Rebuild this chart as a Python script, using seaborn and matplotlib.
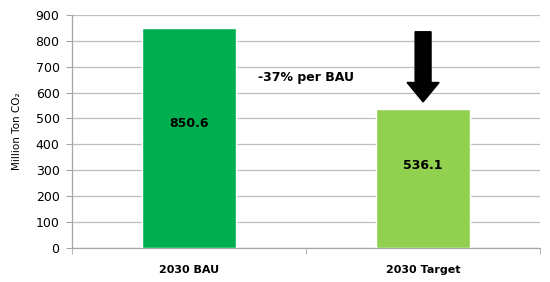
import matplotlib
matplotlib.use('Agg')
import matplotlib.pyplot as plt
import seaborn as sns
import pandas as pd

# chart data
categories = ['2030 BAU', '2030 Target']
emissions = [850.6, 536.1]
bar_colors = ['#00B050', '#92D050']
y_ticks = [0, 100, 200, 300, 400, 500, 600, 700, 800, 900]

df = pd.DataFrame({'scenario': categories, 'emissions': emissions})

sns.set_style('white')
plt.rcParams['font.family'] = ['DejaVu Sans']
plt.rcParams['text.color'] = 'black'
plt.rcParams['xtick.labelcolor'] = 'black'
plt.rcParams['ytick.labelcolor'] = 'black'
plt.rcParams['axes.labelcolor'] = 'black'

fig = plt.figure(figsize=(5.5, 2.82), dpi=100)
ax = fig.add_axes([0.131, 0.121, 0.851, 0.826])

sns.barplot(data=df, x='scenario', y='emissions', hue='scenario',
            palette=bar_colors, saturation=1, width=0.4, legend=False,
            ax=ax, zorder=3)

ax.set_ylim(0, 900)
ax.set_yticks(y_ticks)
ax.set_xlim(-0.5, 1.5)
ax.grid(axis='y', color='#BFBFBF', linewidth=0.9, zorder=0)
ax.set_axisbelow(True)

for s in ['top', 'right']:
    ax.spines[s].set_visible(False)
for s in ['left', 'bottom']:
    ax.spines[s].set_color('#A6A6A6')
    ax.spines[s].set_linewidth(0.9)

# ticks: y outward on the left, x at category boundaries
ax.tick_params(axis='y', left=True, length=4, color='#A6A6A6', labelsize=9, pad=5)
ax.set_xticks([0, 1])
ax.set_xticklabels(categories, fontsize=8, fontweight='bold')
ax.tick_params(axis='x', bottom=False, pad=9)
ax.set_xticks([-0.5, 0.5, 1.5], minor=True)
ax.tick_params(axis='x', which='minor', bottom=True, length=4, color='#A6A6A6')

ax.set_xlabel('')
ax.set_ylabel('Million Ton CO\u2082', fontsize=7.5, labelpad=10)

# value labels inside bars
ax.text(0, 480, f'{emissions[0]}', ha='center', va='center', fontsize=9, fontweight='bold')
ax.text(1, 320, f'{emissions[1]}', ha='center', va='center', fontsize=9, fontweight='bold')

# reduction note and arrow
ax.text(0.5, 660, '-37% per BAU', ha='center', va='center', fontsize=9, fontweight='bold')
ax.arrow(1, 835, 0, -271, width=0.068, head_width=0.137, head_length=75,
         length_includes_head=True, color='black', zorder=5)

fig.savefig('out.png', dpi=100)
